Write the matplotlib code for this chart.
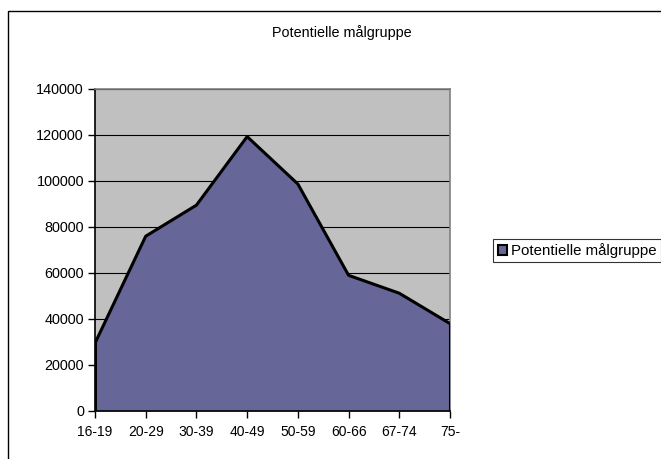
import matplotlib
matplotlib.use("Agg")
import matplotlib.pyplot as plt
from matplotlib.patches import Rectangle, Patch

categories = ["16-19", "20-29", "30-39", "40-49", "50-59", "60-66", "67-74", "75-"]
values = [29500, 76000, 89500, 119300, 98700, 59000, 51200, 38000]
yticks = [0, 20000, 40000, 60000, 80000, 100000, 120000, 140000]
title = "Potentielle målgruppe"
series_name = "Potentielle målgruppe"

plt.rcParams['font.family'] = ['Liberation Sans', 'DejaVu Sans']
W, H = 661, 459
fig = plt.figure(figsize=(W / 100, H / 100), dpi=100)
fig.patch.set_facecolor("white")

# outer chart frame
fig.patches.append(Rectangle((8 / W, -0.1), 1.2, 1 - 11 / H + 0.1, transform=fig.transFigure,
                             fill=False, edgecolor="black", linewidth=1.0))

left, right, top, bottom = 95, 450, 89, 411
ax = fig.add_axes([left / W, 1 - bottom / H, (right - left) / W, (bottom - top) / H])
ax.set_facecolor("#C0C0C0")
x = list(range(len(categories)))
ax.fill_between(x, values, 0, color="#666699", zorder=2, linewidth=0)
ax.plot(x, values, color="black", linewidth=2.2, zorder=3)
ax.plot([x[0], x[0]], [0, values[0]], color="black", linewidth=2.2, zorder=3)
ax.plot([x[-1], x[-1]], [0, values[-1]], color="black", linewidth=2.2, zorder=3)

ax.set_xlim(0, len(categories) - 1)
ax.set_ylim(0, 140000)
ax.set_yticks(yticks)
ax.set_yticklabels([str(v) for v in yticks], fontsize=10.4)
ax.set_xticks(x)
ax.set_xticklabels(categories, fontsize=10)
ax.yaxis.grid(True, color="black", linewidth=0.8, zorder=1)
ax.set_axisbelow(True)
ax.tick_params(axis="both", direction="out", length=5, width=1, colors="black")
ax.tick_params(axis="y", pad=3)
ax.tick_params(axis="x", pad=5)
for s in ["left", "bottom"]:
    ax.spines[s].set_color("black")
    ax.spines[s].set_linewidth(1.2)
for s in ["top", "right"]:
    ax.spines[s].set_color("#808080")
    ax.spines[s].set_linewidth(1.2)

fig.text(342 / W, 1 - 33 / H, title, ha="center", va="center", fontsize=10.4)

leg = fig.legend(handles=[Patch(facecolor="#666699", edgecolor="black", linewidth=1.5, label=series_name)],
                 loc="center left", bbox_to_anchor=(493 / W, 1 - 250.5 / H), fontsize=10.8,
                 frameon=True, fancybox=False, handlelength=0.65, handleheight=0.62,
                 handletextpad=0.25, borderpad=0.3, borderaxespad=0)
leg.get_frame().set_edgecolor("black")
leg.get_frame().set_linewidth(0.8)

fig.savefig("out.png", dpi=100)
